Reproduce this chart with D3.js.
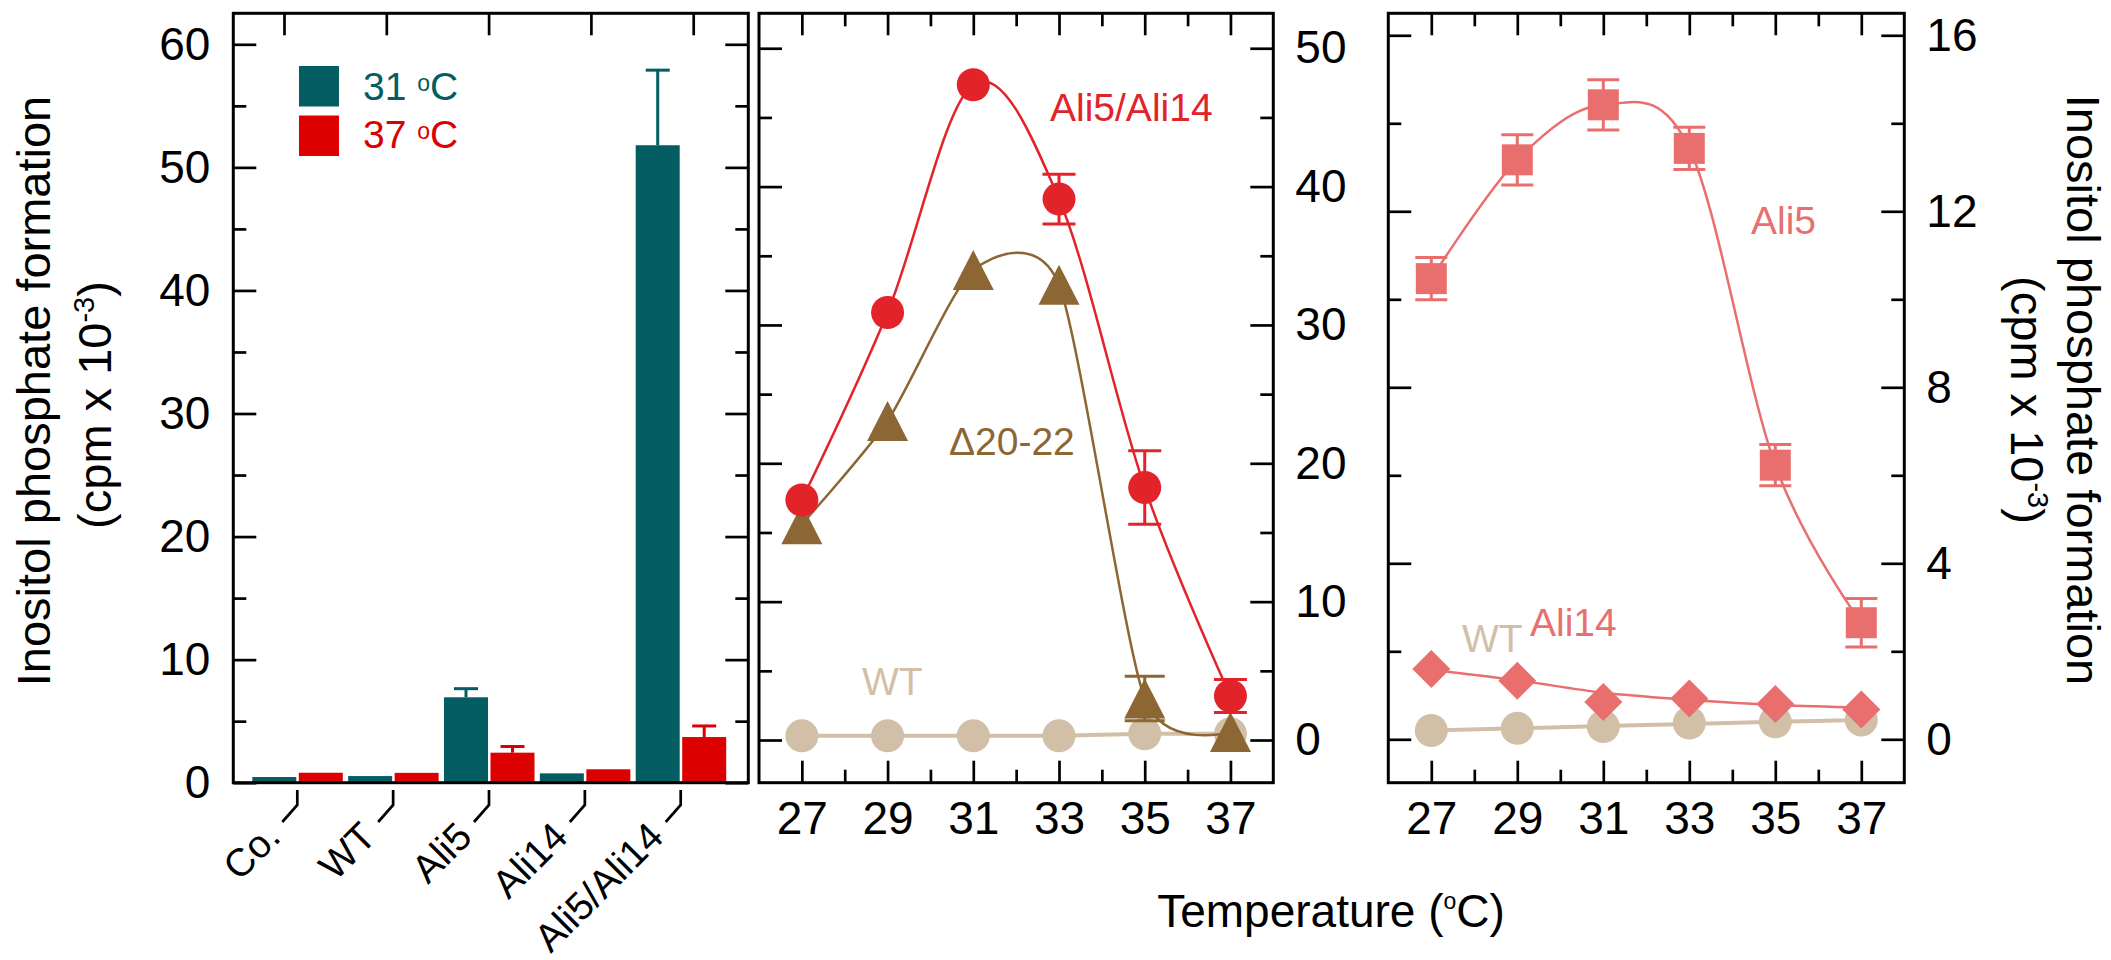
<!DOCTYPE html>
<html>
<head>
<meta charset="utf-8">
<script src="https://cdn.jsdelivr.net/npm/d3@7"></script>
<style>
  body { margin: 0; background: #fff; }
  text { font-family: "Liberation Sans", Arial, sans-serif; }
</style>
</head>
<body>
<svg id="chart" width="2111" height="960"></svg>
<script>
// bar panel
var categories = ["Co.", "WT", "Ali5", "Ali14", "Ali5/Ali14"];
var bars31 = [0.46, 0.54, 6.94, 0.76, 51.8];
var bars31Err = [0, 0, 0.7, 0, 6.1];
var bars37 = [0.81, 0.8, 2.44, 1.09, 3.71];
var bars37Err = [0, 0, 0.5, 0, 0.9];

// temperature panels
var temps = [27, 29, 31, 33, 35, 37];
var minorTemps = [28, 30, 32, 34, 36];
var aliDouble = [17.35, 30.9, 47.36, 39.1, 18.25, 3.18];
var aliDoubleErr = [0, 0, 0, 1.8, 2.65, 1.2];
var delta2022 = [15.6, 23.06, 33.97, 32.9, 3.0, 0.57];
var delta2022Err = [0, 0, 0, 0, 1.6, 0];
var wtMid = [0.3, 0.3, 0.3, 0.3, 0.45, 0.45];

var ali5 = [10.47, 13.17, 14.42, 13.43, 6.23, 2.65];
var ali5Err = [0.48, 0.57, 0.57, 0.48, 0.47, 0.55];
var ali14 = [1.6, 1.33, 0.85, 0.93, 0.8, 0.68];
var ali14Fit = [1.58, 1.34, 1.06, 0.9, 0.78, 0.72];
var wtRight = [0.2, 0.25, 0.29, 0.37, 0.4, 0.44];
var wtRightFit = [0.2, 0.25, 0.3, 0.35, 0.4, 0.44];

// tick values
var leftMajor = [0, 10, 20, 30, 40, 50, 60];
var leftMinor = [5, 15, 25, 35, 45, 55];
var midMajor = [0, 10, 20, 30, 40, 50];
var midMinor = [5, 15, 25, 35, 45];
var rightMajor = [0, 4, 8, 12, 16];
var rightMinor = [2, 6, 10, 14];

var teal = "#045d60", barRed = "#dc0000", dotRed = "#e2232a",
    brown = "#8c6633", tan = "#d2bfa8", pink = "#e96f6f";

var svg = d3.select("#chart");
var top0 = 13.3, bottom0 = 782.7;

function ticks(x, y, axis, scale, values, size) {
    var g = svg.append("g")
        .attr("transform", `translate(${x},${y})`)
        .call(axis(scale).tickValues(values).tickSize(size).tickFormat(""));
    g.select(".domain").remove();
    g.selectAll("line").attr("stroke", "#000").attr("stroke-width", 2.7);
}

function labels(x, y, axis, scale, values, pad) {
    var g = svg.append("g")
        .attr("transform", `translate(${x},${y})`)
        .call(axis(scale).tickValues(values).tickSize(0).tickPadding(pad));
    g.select(".domain").remove();
    g.selectAll("text").attr("font-size", 46).attr("font-family", "Liberation Sans, Arial, sans-serif").attr("fill", "#000");
}

function frame(x0, x1) {
    svg.append("rect")
        .attr("x", x0).attr("y", top0)
        .attr("width", x1 - x0).attr("height", bottom0 - top0)
        .attr("fill", "none").attr("stroke", "#000").attr("stroke-width", 3);
}

// ---------- left panel: bars ----------
var L0 = 233.3, L1 = 748.3;
var xCat = d3.scalePoint().domain(categories).range([297.3, 680.7]);
var xCatTop = d3.scalePoint().domain(categories).range([284, 693.2]);
var yLeft = d3.scaleLinear().domain([0, 62.52]).range([bottom0, top0]);

var barW = 44;
svg.append("g").selectAll("rect")
    .data(bars31).enter().append("rect")
    .attr("x", (d, i) => xCat(categories[i]) - barW - 1)
    .attr("y", d => yLeft(d))
    .attr("width", barW)
    .attr("height", d => yLeft(0) - yLeft(d))
    .attr("fill", teal);

svg.append("g").selectAll("rect")
    .data(bars37).enter().append("rect")
    .attr("x", (d, i) => xCat(categories[i]) + 1.5)
    .attr("y", d => yLeft(d))
    .attr("width", barW)
    .attr("height", d => yLeft(0) - yLeft(d))
    .attr("fill", barRed);

function barErrors(vals, errs, dx, color) {
    var g = svg.append("g").attr("stroke", color).attr("stroke-width", 3);
    vals.forEach(function(v, i) {
        if (!errs[i]) return;
        var cx = xCat(categories[i]) + dx;
        g.append("line").attr("x1", cx).attr("x2", cx)
            .attr("y1", yLeft(v)).attr("y2", yLeft(v + errs[i]));
        g.append("line").attr("x1", cx - 12).attr("x2", cx + 12)
            .attr("y1", yLeft(v + errs[i])).attr("y2", yLeft(v + errs[i]));
    });
}
barErrors(bars31, bars31Err, -barW / 2 - 1, teal);
barErrors(bars37, bars37Err, barW / 2 + 1.5, barRed);

frame(L0, L1);
ticks(L0, 0, d3.axisRight, yLeft, leftMajor, 23);
ticks(L0, 0, d3.axisRight, yLeft, leftMinor, 13);
ticks(L1, 0, d3.axisLeft, yLeft, leftMajor, 23);
ticks(L1, 0, d3.axisLeft, yLeft, leftMinor, 13);
ticks(0, top0, d3.axisBottom, xCatTop, categories, 22);
labels(L0, 0, d3.axisLeft, yLeft, leftMajor, 23);

// category ticks with leaders and slanted labels
svg.append("g").selectAll("path")
    .data(categories).enter().append("path")
    .attr("d", d => `M${xCat(d)},790 V805 l-15,17`)
    .attr("fill", "none").attr("stroke", "#000").attr("stroke-width", 2.7);

svg.append("g").selectAll("text")
    .data(categories).enter().append("text")
    .attr("transform", d => `translate(${xCat(d) - 15},${839}) rotate(-45)`)
    .attr("text-anchor", "end")
    .attr("font-size", 39)
    .text(d => d);

// legend
var legend = [["31", teal], ["37", barRed]];
legend.forEach(function(l, i) {
    svg.append("rect").attr("x", 299).attr("y", 66 + i * 49.5)
        .attr("width", 40).attr("height", 40.5).attr("fill", l[1]);
    var t = svg.append("text").attr("x", 363).attr("y", 100 + i * 48.3)
        .attr("font-size", 39).attr("fill", l[1]);
    t.append("tspan").text(l[0] + " ");
    t.append("tspan").attr("font-size", 23).attr("dy", -9).text("o");
    t.append("tspan").attr("dy", 9).text("C");
});

// ---------- middle panel ----------
var M0 = 759, M1 = 1273.3;
var xMid = d3.scaleLinear().domain([26, 38]).range([M0, M1]);
var yMid = d3.scaleLinear().domain([-3.086, 52.526]).range([bottom0, top0]);

function curve(xs, ys, vals, color, width, kind) {
    var line = d3.line()
        .x((d, i) => xs(temps[i]))
        .y(d => ys(d))
        .curve(kind || d3.curveCardinal);
    svg.append("path").datum(vals)
        .attr("d", line).attr("fill", "none")
        .attr("stroke", color).attr("stroke-width", width);
}

function errors(xs, ys, vals, errs, capW, color) {
    var g = svg.append("g").attr("stroke", color).attr("stroke-width", 3);
    vals.forEach(function(v, i) {
        if (!errs[i]) return;
        var cx = xs(temps[i]);
        g.append("line").attr("x1", cx).attr("x2", cx)
            .attr("y1", ys(v - errs[i])).attr("y2", ys(v + errs[i]));
        [v - errs[i], v + errs[i]].forEach(function(e) {
            g.append("line").attr("x1", cx - capW / 2).attr("x2", cx + capW / 2)
                .attr("y1", ys(e)).attr("y2", ys(e));
        });
    });
}

function markers(xs, ys, vals, shape, color) {
    svg.append("g").selectAll("path")
        .data(vals).enter().append("path")
        .attr("transform", (d, i) => `translate(${xs(temps[i])},${ys(d)})`)
        .attr("d", shape)
        .attr("fill", color);
}

var circle = "M-16.5,0 A16.5,16.5 0 1,0 16.5,0 A16.5,16.5 0 1,0 -16.5,0 Z";
var triangle = "M0,-20 L20.5,20 L-20.5,20 Z";
var square = "M-15.5,-15.5 H15.5 V15.5 H-15.5 Z";
var diamond = "M0,-19 L19,0 L0,19 L-19,0 Z";

curve(xMid, yMid, wtMid, tan, 4, d3.curveLinear);
markers(xMid, yMid, wtMid, circle, tan);
curve(xMid, yMid, delta2022, brown, 2.5, d3.curveCardinal.tension(0.3));
curve(xMid, yMid, aliDouble, dotRed, 2.5);
errors(xMid, yMid, delta2022, delta2022Err, 40, brown);
markers(xMid, yMid, delta2022, triangle, brown);
errors(xMid, yMid, aliDouble, aliDoubleErr, 33, dotRed);
markers(xMid, yMid, aliDouble, circle, dotRed);

frame(M0, M1);
ticks(M0, 0, d3.axisRight, yMid, midMajor, 23);
ticks(M0, 0, d3.axisRight, yMid, midMinor, 13);
ticks(M1, 0, d3.axisLeft, yMid, midMajor, 23);
ticks(M1, 0, d3.axisLeft, yMid, midMinor, 13);
ticks(0, bottom0, d3.axisTop, xMid, temps, 22);
ticks(0, bottom0, d3.axisTop, xMid, minorTemps, 13);
ticks(0, top0, d3.axisBottom, xMid, temps, 22);
ticks(0, top0, d3.axisBottom, xMid, minorTemps, 13);
labels(M1, 0, d3.axisRight, yMid, midMajor, 22);
labels(0, bottom0, d3.axisBottom, xMid, temps, 19);

svg.append("text").attr("x", 1050).attr("y", 121.4).attr("font-size", 39)
    .attr("fill", dotRed).text("Ali5/Ali14");
svg.append("text").attr("x", 949).attr("y", 454.5).attr("font-size", 39)
    .attr("fill", brown).text("\u039420-22");
svg.append("text").attr("x", 862).attr("y", 695).attr("font-size", 39)
    .attr("fill", tan).text("WT");

// ---------- right panel ----------
var R0 = 1388.3, R1 = 1904.3;
var xRight = d3.scaleLinear().domain([26, 38]).range([R0, R1]);
var yRight = d3.scaleLinear().domain([-0.986, 16.5]).range([bottom0, top0]);

curve(xRight, yRight, wtRightFit, tan, 4, d3.curveLinear);
markers(xRight, yRight, wtRight, circle, tan);
curve(xRight, yRight, ali14Fit, pink, 2.5);
markers(xRight, yRight, ali14, diamond, pink);
curve(xRight, yRight, ali5, pink, 2.5);
errors(xRight, yRight, ali5, ali5Err, 32, pink);
markers(xRight, yRight, ali5, square, pink);

frame(R0, R1);
ticks(R0, 0, d3.axisRight, yRight, rightMajor, 23);
ticks(R0, 0, d3.axisRight, yRight, rightMinor, 13);
ticks(R1, 0, d3.axisLeft, yRight, rightMajor, 23);
ticks(R1, 0, d3.axisLeft, yRight, rightMinor, 13);
ticks(0, bottom0, d3.axisTop, xRight, temps, 22);
ticks(0, bottom0, d3.axisTop, xRight, minorTemps, 13);
ticks(0, top0, d3.axisBottom, xRight, temps, 22);
ticks(0, top0, d3.axisBottom, xRight, minorTemps, 13);
labels(R1, 0, d3.axisRight, yRight, rightMajor, 22);
labels(0, bottom0, d3.axisBottom, xRight, temps, 19);

svg.append("text").attr("x", 1751).attr("y", 234.4).attr("font-size", 39)
    .attr("fill", pink).text("Ali5");
svg.append("text").attr("x", 1530).attr("y", 636).attr("font-size", 39)
    .attr("fill", pink).text("Ali14");
svg.append("text").attr("x", 1462).attr("y", 651.8).attr("font-size", 39)
    .attr("fill", tan).text("WT");

// ---------- axis titles ----------
function unitLine(x, y, rot) {
    var t = svg.append("text")
        .attr("transform", `translate(${x},${y}) rotate(${rot})`)
        .attr("text-anchor", "middle").attr("font-size", 47);
    t.append("tspan").text("(cpm x 10");
    t.append("tspan").attr("font-size", 29).attr("dy", -17).text("-3");
    t.append("tspan").attr("dy", 17).text(")");
}

svg.append("text").attr("transform", "translate(50,391) rotate(-90)")
    .attr("text-anchor", "middle").attr("font-size", 47)
    .text("Inositol phosphate formation");
unitLine(111, 405, -90);

svg.append("text").attr("transform", "translate(2067,390) rotate(90)")
    .attr("text-anchor", "middle").attr("font-size", 47)
    .text("Inositol phosphate formation");
unitLine(2011, 400, 90);

var tempTitle = svg.append("text").attr("x", 1331).attr("y", 926.7)
    .attr("text-anchor", "middle").attr("font-size", 46);
tempTitle.append("tspan").text("Temperature (");
tempTitle.append("tspan").attr("font-size", 23).attr("dy", -18).text("o");
tempTitle.append("tspan").attr("dy", 18).text("C)");
</script>
</body>
</html>
